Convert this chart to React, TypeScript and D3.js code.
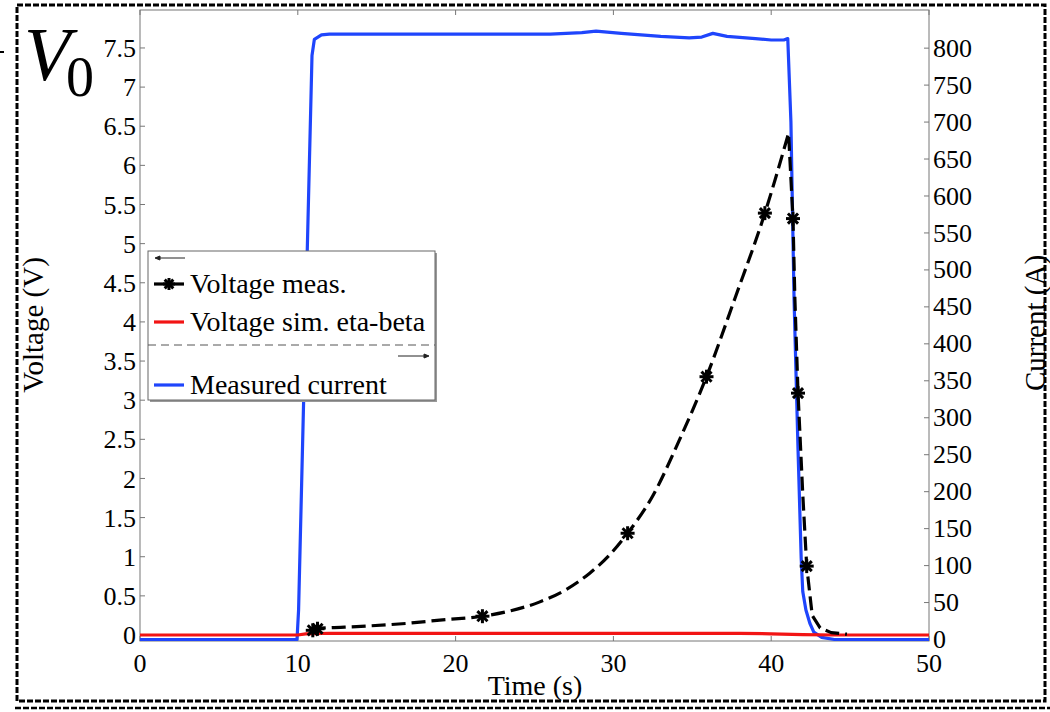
import React from "react";
import * as d3 from "d3";

// ---- Data ----
const xTicks = [0, 10, 20, 30, 40, 50];
const voltTicks = [0, 0.5, 1, 1.5, 2, 2.5, 3, 3.5, 4, 4.5, 5, 5.5, 6, 6.5, 7, 7.5];
const currTicks = [0, 50, 100, 150, 200, 250, 300, 350, 400, 450, 500, 550, 600, 650, 700, 750, 800];

// Measured current (A)
const currentT = [0, 9.95, 10.05, 10.6, 10.9, 11.05, 11.5, 12, 20, 26, 28, 28.9, 30.5, 33, 34.8, 35.6, 36.3, 37.2, 39, 40, 40.8, 41.05, 41.25, 41.45, 41.7, 41.9, 42.0, 42.2, 42.45, 42.7, 43.2, 44, 50];
const currentA = [0, 0, 40, 527, 790, 812, 818, 819, 819, 819, 821, 823, 820, 816, 814, 815, 820, 816, 813, 811, 811, 813, 700, 459, 257, 110, 65, 40, 22, 10, 3, 0, 0];

// Voltage measured, rising part (V)
const vRiseT = [10.9, 11.2, 14, 17, 19, 21.7, 23.5, 25.3, 27.0, 28.5, 29.7, 30.9, 32.5, 34.2, 35.9, 37.7, 39.6, 41.1];
const vRiseV = [0.06, 0.08, 0.11, 0.15, 0.19, 0.24, 0.31, 0.42, 0.58, 0.79, 1.01, 1.30, 1.78, 2.50, 3.30, 4.30, 5.39, 6.41];
// Voltage measured, falling part (V)
const vFallT = [41.1, 41.38, 41.5, 41.7, 42.0, 42.25, 42.6, 43.1, 43.8, 44.8];
const vFallV = [6.41, 5.32, 4.3, 3.09, 1.8, 0.88, 0.25, 0.09, 0.03, 0.01];

// Voltage measurement markers
const markT = [10.95, 11.25, 21.7, 30.9, 35.9, 39.6, 41.38, 41.7, 42.25];
const markV = [0.06, 0.08, 0.24, 1.30, 3.30, 5.39, 5.32, 3.09, 0.88];

// Voltage sim. eta-beta (V)
const simT = [0, 10, 10.5, 12, 38, 40, 42, 44, 50];
const simV = [0.0, 0.0, 0.015, 0.022, 0.022, 0.015, 0.005, 0.0, 0.0];

const FONT = "'Liberation Serif', 'Times New Roman', serif";
const BLUE = "#1f45fc";
const RED = "#f21414";

const L = 140, R = 929, T = 10, B = 641;

export default function App() {
  const x = d3.scaleLinear().domain([0, 50]).range([L, R]);
  const yV = d3.scaleLinear().domain([-0.0767, 7.985]).range([B, T]);
  const yA = d3.scaleLinear().domain([-2.0, 851.6]).range([B, T]);

  const cur = currentT.map((t, i) => [t, currentA[i]] as [number, number]);
  const rise = vRiseT.map((t, i) => [t, vRiseV[i]] as [number, number]);
  const fall = vFallT.map((t, i) => [t, vFallV[i]] as [number, number]);
  const sim = simT.map((t, i) => [t, simV[i]] as [number, number]);

  const lineA = d3.line<[number, number]>().x(d => x(d[0])).y(d => yA(d[1]));
  const lineVsmooth = d3.line<[number, number]>().x(d => x(d[0])).y(d => yV(d[1])).curve(d3.curveMonotoneX);
  const lineVlin = d3.line<[number, number]>().x(d => x(d[0])).y(d => yV(d[1]));

  const voltPath = (lineVsmooth(rise) || "") + (lineVlin(fall) || "").replace(/^M/, "L");

  const star = (cx: number, cy: number, r: number, key: any) => (
    <g key={key} stroke="#000" strokeWidth={3} strokeLinecap="butt">
      <line x1={cx - r} y1={cy} x2={cx + r} y2={cy} />
      <line x1={cx} y1={cy - r} x2={cx} y2={cy + r} />
      <line x1={cx - r * 0.72} y1={cy - r * 0.72} x2={cx + r * 0.72} y2={cy + r * 0.72} />
      <line x1={cx - r * 0.72} y1={cy + r * 0.72} x2={cx + r * 0.72} y2={cy - r * 0.72} />
    </g>
  );

  const fmt = (v: number) => String(v);

  return (
    <svg width={1050} height={712} style={{ position: "absolute", left: 0, top: 0, background: "#fff" }} fontFamily={FONT}>
      <rect x={0} y={0} width={1050} height={712} fill="#fff" />
      {/* outer dashed frame */}
      <rect x={17} y={5} width={1028} height={696} fill="none" stroke="#000" strokeWidth={3} strokeDasharray="6,2" />
      <line x1={15} y1={708} x2={1050} y2={708} stroke="#000" strokeWidth={2.5} strokeDasharray="6,2" />
      <line x1={0} y1={52} x2={4} y2={52} stroke="#000" strokeWidth={2} />

      {/* V0 label */}
      <text x={24} y={80} fontSize={76} fontStyle="italic" fill="#000">V</text>
      <text x={66} y={96} fontSize={56} fill="#000">0</text>

      {/* plot box */}
      <rect x={L} y={T} width={R - L} height={B - T} fill="#fff" stroke="#777" strokeWidth={1} />

      {/* x ticks */}
      {xTicks.map(t => (
        <g key={"xt" + t}>
          <line x1={x(t)} x2={x(t)} y1={B} y2={B - 5} stroke="#777" />
          <line x1={x(t)} x2={x(t)} y1={T} y2={T + 5} stroke="#777" />
          <text x={x(t)} y={672} fontSize={26} textAnchor="middle" fill="#000">{fmt(t)}</text>
        </g>
      ))}
      {/* left ticks */}
      {voltTicks.map(v => (
        <g key={"yv" + v}>
          <line x1={L} x2={L + 5} y1={yV(v)} y2={yV(v)} stroke="#777" />
          <text x={136} y={yV(v)} dy="0.35em" fontSize={26} textAnchor="end" fill="#000">{fmt(v)}</text>
        </g>
      ))}
      {/* right ticks */}
      {currTicks.map(v => (
        <g key={"ya" + v}>
          <line x1={R} x2={R - 5} y1={yA(v)} y2={yA(v)} stroke="#777" />
          <text x={933} y={yA(v)} dy="0.33em" fontSize={26} textAnchor="start" fill="#000">{fmt(v)}</text>
        </g>
      ))}

      {/* axis titles */}
      <text x={535} y={695} fontSize={28} textAnchor="middle" fill="#000">Time (s)</text>
      <text transform="translate(33,325) rotate(-90)" fontSize={29} textAnchor="middle" dy="0.35em" fill="#000">Voltage (V)</text>
      <text transform="translate(1035,323) rotate(-90)" fontSize={29} textAnchor="middle" dy="0.35em" fill="#000">Current (A)</text>

      {/* data */}
      <path d={lineA(cur) || ""} fill="none" stroke={BLUE} strokeWidth={3.2} strokeLinejoin="round" />
      <path d={lineVlin(sim) || ""} fill="none" stroke={RED} strokeWidth={3.2} />
      <path d={voltPath} fill="none" stroke="#000" strokeWidth={3.2} strokeDasharray="14,6" strokeLinejoin="round" />
      {markT.map((t, i) => star(x(t), yV(markV[i]), 7, "m" + i))}

      {/* legend */}
      <rect x={150} y={253} width={287} height={149} fill="#999" />
      <rect x={148} y={251} width={287} height={149} fill="#fff" stroke="#666" strokeWidth={1} />
      <g stroke="#222" strokeWidth={1} fill="#222">
        <line x1={156} y1={258} x2={185} y2={258} />
        <path d="M155,258 L160,256 L160,260 Z" />
        <line x1={398} y1={356} x2={427} y2={356} />
        <path d="M429,356 L424,354 L424,358 Z" />
      </g>
      <line x1={148} y1={345} x2={435} y2={345} stroke="#555" strokeWidth={1} strokeDasharray="8,5" />
      <line x1={154} y1={284} x2={184} y2={284} stroke="#000" strokeWidth={3.2} />
      {star(169, 284, 6, "lg")}
      <line x1={154} y1={322} x2={184} y2={322} stroke={RED} strokeWidth={3.2} />
      <line x1={154} y1={385} x2={184} y2={385} stroke={BLUE} strokeWidth={3.2} />
      <text x={190} y={293} fontSize={28} fill="#000">Voltage meas.</text>
      <text x={190} y={331} fontSize={28} fill="#000">Voltage sim. eta-beta</text>
      <text x={190} y={394} fontSize={28} fill="#000">Measured current</text>
    </svg>
  );
}
